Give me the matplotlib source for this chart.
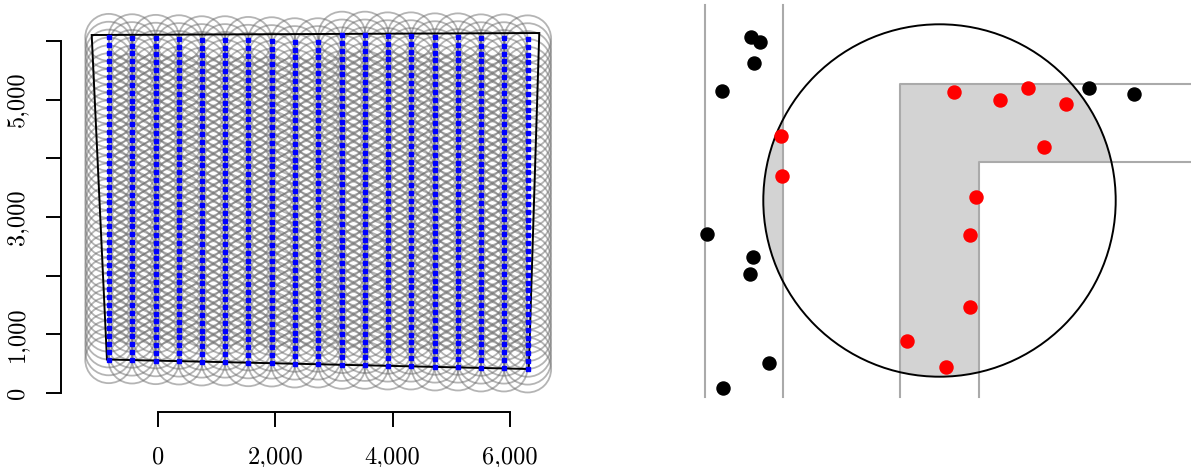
import numpy as np
import matplotlib
matplotlib.use("Agg")
import matplotlib.pyplot as plt
from matplotlib.patches import Circle, Polygon
from matplotlib.collections import PatchCollection

# ---- left panel: survey region + transect lines ----
region_x = [-1130, 6499, 6320, -870]
region_y = [6102, 6136, 409, 571]

transect_x = [-840, -443, -39, 358, 745, 1142, 1539, 1938, 2330, 2727,
              3136, 3528, 3915, 4312, 4721, 5113, 5505, 5897, 6301]
transect_bottom = [568, 562, 551, 545, 528, 528, 516, 511, 494, 494,
                   472, 472, 460, 460, 443, 443, 426, 426, 409]
transect_top = [6100, 6100, 6105, 6105, 6108, 6110, 6112, 6112, 6115, 6118,
                6120, 6120, 6122, 6124, 6125, 6127, 6129, 6130, 6132]
point_spacing = 134
buffer_radius = 400

xticks = [0, 2000, 4000, 6000]
xticklabels = ["0", "2,000", "4,000", "6,000"]
yticks = [0, 1000, 2000, 3000, 4000, 5000, 6000]
yticklabels = ["0", "1,000", "", "3,000", "", "5,000", ""]

# ---- right panel: zoomed detail ----
strip1_x = [25, 103]
strip_bottom = 70
strip_top = 462
lstrip_outer_x = 220
lstrip_inner_x = 298.7
lstrip_outer_y = 383.3
lstrip_inner_y = 305
panel_right = 511
circle_center = (259.5, 266.5)
circle_radius = 176.2

black_x = [71, 80.3, 73.7, 42.3, 409.3, 453.7, 26.7, 72.7, 70, 88.7, 43]
black_y = [430.3, 424.7, 404, 376.3, 379, 372.7, 233.3, 210.3, 193, 104, 79.3]
red_x = [101.3, 102, 273.7, 319.7, 348, 385.7, 364.3, 296, 289.7, 290.3, 227.3, 266.3]
red_y = [330.7, 290.7, 375, 367, 379, 363.3, 320.3, 269.7, 231.7, 159.7, 126.3, 99.7]

W, H = 1191, 467
fig = plt.figure(figsize=(W / 100, H / 100), dpi=100)

# left axes, laid out so that 1000 units ~ 58.7 px both ways
ax = fig.add_axes([61 / W, (H - 412) / H, 499 / W, 407 / H])
ax.set_xlim(-1653.4, 6852.3)
ax.set_ylim(-323.9, 6613.6)

pts_x, pts_y = [], []
for x, b, t in zip(transect_x, transect_bottom, transect_top):
    ys = np.arange(b, t, point_spacing)
    pts_x.extend([x] * len(ys))
    pts_y.extend(ys)

circles = [Circle((x, y), buffer_radius) for x, y in zip(pts_x, pts_y)]
pc = PatchCollection(circles, facecolor="none",
                     edgecolor=(0.42, 0.42, 0.42, 0.5), linewidth=1.3)
ax.add_collection(pc)

ax.add_patch(Polygon(np.column_stack([region_x, region_y]), closed=True,
                     fill=False, edgecolor="black", linewidth=1.4, zorder=3))
ax.plot(pts_x, pts_y, "s", color="#0000ff", markersize=2.7, zorder=4)

for s in ["top", "right"]:
    ax.spines[s].set_visible(False)
ax.spines["left"].set_bounds(0, 6000)
ax.spines["bottom"].set_bounds(0, 6000)
for s in ["left", "bottom"]:
    ax.spines[s].set_linewidth(1.4)

ax.set_xticks(xticks)
ax.set_xticklabels(xticklabels)
ax.set_yticks(yticks)
ax.set_yticklabels(yticklabels, rotation=90, va="center")
ax.tick_params(axis="both", direction="out", length=10.5, width=1.4,
               labelsize=17.5)
ax.tick_params(axis="x", pad=14)
ax.tick_params(axis="y", pad=13)
for lab in ax.get_xticklabels() + ax.get_yticklabels():
    lab.set_fontfamily("cmr10")

# right axes in pixel-like units
ax2 = fig.add_axes([680 / W, 0, 511 / W, 1])
ax2.set_xlim(0, 511)
ax2.set_ylim(0, 467)
ax2.axis("off")

circ_clip = Circle(circle_center, circle_radius, transform=ax2.transData)
strip1 = Polygon([[strip1_x[0], strip_bottom], [strip1_x[1], strip_bottom],
                  [strip1_x[1], strip_top], [strip1_x[0], strip_top]],
                 closed=True, facecolor="#d3d3d3", edgecolor="none")
lstrip = Polygon([[lstrip_outer_x, strip_bottom], [lstrip_inner_x, strip_bottom],
                  [lstrip_inner_x, lstrip_inner_y], [panel_right, lstrip_inner_y],
                  [panel_right, lstrip_outer_y], [lstrip_outer_x, lstrip_outer_y]],
                 closed=True, facecolor="#d3d3d3", edgecolor="none")
for p in (strip1, lstrip):
    ax2.add_patch(p)
    p.set_clip_path(circ_clip)

grey = "#aaaaaa"
for x in strip1_x:
    ax2.plot([x, x], [strip_bottom, strip_top], color=grey, lw=1.5)
ax2.plot([lstrip_outer_x, lstrip_outer_x, panel_right],
         [strip_bottom, lstrip_outer_y, lstrip_outer_y], color=grey, lw=1.5)
ax2.plot([lstrip_inner_x, lstrip_inner_x, panel_right],
         [strip_bottom, lstrip_inner_y, lstrip_inner_y], color=grey, lw=1.5)

ax2.add_patch(Circle(circle_center, circle_radius, fill=False,
                     edgecolor="black", linewidth=1.4, zorder=3))
ax2.plot(black_x, black_y, "o", color="black", markersize=9.4, zorder=4)
ax2.plot(red_x, red_y, "o", color="#ff0000", markersize=9.4, zorder=4)

fig.savefig("out.png", dpi=100)
